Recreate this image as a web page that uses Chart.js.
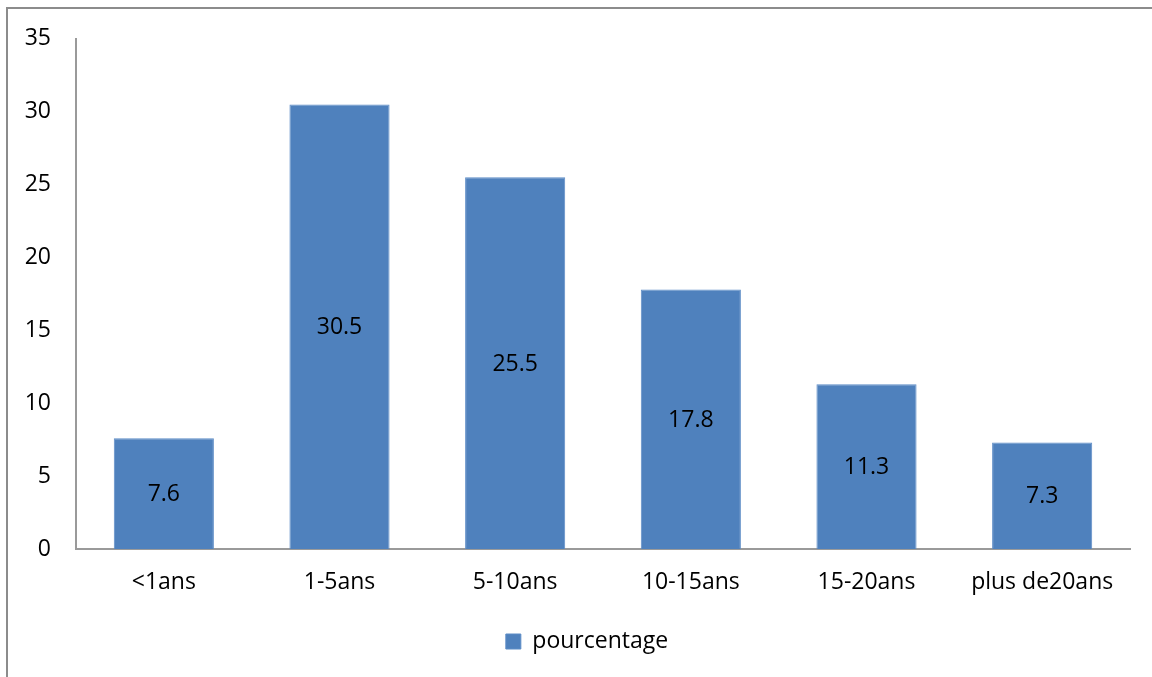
<!DOCTYPE html>
<html>
<head>
<meta charset="utf-8">
<script src="https://cdn.jsdelivr.net/npm/chart.js@4/dist/chart.umd.min.js"></script>
<style>
  html, body { margin: 0; padding: 0; background: #ffffff; }
  #wrap { position: relative; width: 1152px; height: 677px; }
</style>
</head>
<body>
<div id="wrap"><canvas id="c" width="1152" height="677"></canvas></div>
<script>
const categories = ["<1ans", "1-5ans", "5-10ans", "10-15ans", "15-20ans", "plus de20ans"];
const pourcentage = [7.6, 30.5, 25.5, 17.8, 11.3, 7.3];
const seriesName = "pourcentage";
const yMin = 0, yMax = 35, yStep = 5;

const FONT = "'Open Sans', 'Liberation Sans', sans-serif";

const frame = {
  id: 'frame',
  beforeDraw(chart) {
    const ctx = chart.ctx;
    ctx.save();
    ctx.fillStyle = '#ffffff';
    ctx.fillRect(0, 0, chart.width, chart.height);
    ctx.strokeStyle = '#8c8c8c';
    ctx.lineWidth = 2;
    ctx.strokeRect(7, 8, 1300, 800);
    ctx.restore();
  }
};

const shiftLegend = {
  id: 'shiftLegend',
  afterLayout(chart) {
    const lg = chart.legend;
    if (lg) {
      lg.left = 44;
      lg.width = lg.right - lg.left;
    }
  }
};

const valueLabels = {
  id: 'valueLabels',
  afterDatasetsDraw(chart) {
    const ctx = chart.ctx;
    ctx.save();
    ctx.font = "23px " + FONT;
    ctx.fillStyle = '#000000';
    ctx.textAlign = 'center';
    ctx.textBaseline = 'middle';
    chart.data.datasets.forEach((ds, di) => {
      const meta = chart.getDatasetMeta(di);
      meta.data.forEach((el, i) => {
        const p = el.getProps(['x', 'y', 'base'], true);
        ctx.fillText(String(ds.data[i]), p.x, (p.y + p.base) / 2 + 1);
      });
    });
    ctx.restore();
  }
};

new Chart(document.getElementById('c'), {
  type: 'bar',
  data: {
    labels: categories,
    datasets: [{
      label: seriesName,
      data: pourcentage,
      backgroundColor: '#4F81BD',
      borderColor: '#5d8cc6',
      borderWidth: 1,
      categoryPercentage: 1.0,
      barPercentage: 0.57
    }]
  },
  options: {
    responsive: false,
    animation: false,
    layout: { padding: { left: 0, top: 38, right: 22, bottom: 14 } },
    plugins: {
      legend: {
        position: 'bottom',
        labels: {
          boxWidth: 15,
          boxHeight: 15,
          color: '#000000',
          font: { family: FONT, size: 23 },
          padding: 10
        }
      },
      tooltip: { enabled: false }
    },
    scales: {
      y: {
        min: yMin,
        max: yMax,
        ticks: {
          stepSize: yStep,
          color: '#000000',
          padding: 25,
          font: { family: FONT, size: 23 }
        },
        grid: { display: false, drawTicks: false },
        border: { display: true, color: '#9a9a9a', width: 2 },
        afterFit(scale) { scale.width = 76; }
      },
      x: {
        ticks: {
          color: '#000000',
          padding: 20,
          maxRotation: 0,
          autoSkip: false,
          font: { family: FONT, size: 23 }
        },
        grid: { display: false, drawTicks: false },
        border: { display: true, color: '#9a9a9a', width: 2 },
        afterFit(scale) { scale.height = 71; }
      }
    }
  },
  plugins: [frame, shiftLegend, valueLabels]
});
</script>
</body>
</html>
